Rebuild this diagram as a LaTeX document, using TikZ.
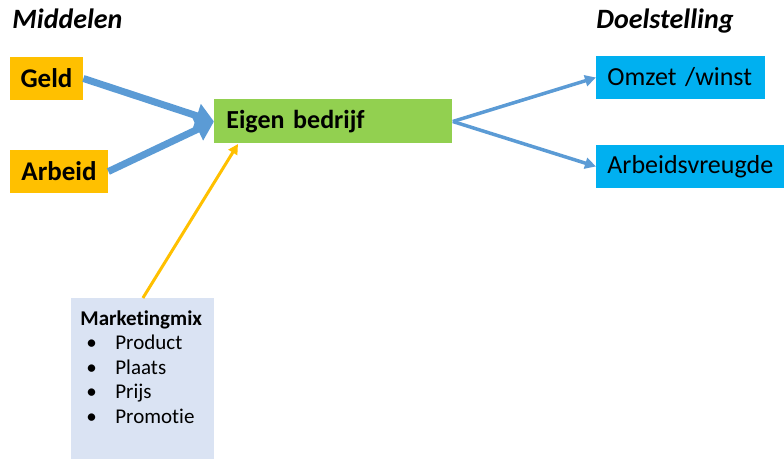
\documentclass[tikz,border=0pt]{standalone}
\usepackage{fontspec}
\setmainfont{Carlito}[Ligatures=NoCommon]
\usetikzlibrary{arrows.meta}

\definecolor{middelgeel}{HTML}{FFC000}
\definecolor{bedrijfgroen}{HTML}{92D050}
\definecolor{doelblauw}{HTML}{00B0F0}
\definecolor{mixblauw}{HTML}{DAE3F3}
\definecolor{pijlblauw}{HTML}{5B9BD5}

\begin{document}
\begin{tikzpicture}[
  x=0.5pt, y=-0.5pt,
  kop/.style={font=\fontsize{14}{16}\selectfont\bfseries\itshape, inner sep=0pt},
  middel/.style={fill=middelgeel, font=\fontsize{13.5}{15}\selectfont\bfseries,
    minimum height=21.5pt, inner xsep=0pt, inner ysep=0pt},
  doel/.style={fill=doelblauw, font=\fontsize{13}{15}\selectfont, anchor=west,
    minimum height=21.5pt, inner xsep=5.5pt, inner ysep=0pt, align=left},
  dikpijl/.style={draw=pijlblauw, line width=3.5pt, -{Triangle[length=9pt, width=12pt]}},
  dunpijl/.style={draw=pijlblauw, line width=1.75pt, -{Triangle[length=5.5pt, width=5.5pt]}},
  mixpijl/.style={draw=middelgeel, line width=1.5pt, -{Triangle[length=5pt, width=5pt]}}
]
  \useasboundingbox (0,0) rectangle (784,459);

  % Headings above both columns
  \node[kop, anchor=base west] (middelen) at (12,29)  {Middelen};
  \node[kop, anchor=base west] (doelen)   at (596,29) {Doelstelling};

  % Means on the left
  \node[middel, minimum width=36.5pt] (geld)   at (46.5,78.5)  {Geld};
  \node[middel, minimum width=49pt]   (arbeid) at (59,171.5)   {Arbeid};

  % The company in the middle
  \node[fill=bedrijfgroen, font=\fontsize{13}{15}\selectfont\bfseries, anchor=west,
    minimum height=22pt, text width=107pt, inner xsep=6pt, inner ysep=0pt,
    align=left] (bedrijf) at (214,121.5) {Eigen bedrijf};

  % Goals on the right
  \node[doel, text width=73.5pt] (omzet)  at (596,77.5)  {Omzet /winst};
  \node[doel, text width=83pt]   (vreugde) at (596,166.5) {Arbeidsvreugde};

  % Marketing mix box below
  \node[fill=mixblauw, anchor=north west, text width=62.5pt, minimum height=80.5pt,
    inner xsep=4.5pt, inner ysep=6pt, align=left, font=\fontsize{10.5}{12.25}\selectfont,
    text depth=62pt] (mix) at (71,298)
    {\textbf{Marketingmix}\\
     \hspace*{3pt}\makebox[14.5pt][l]{\textbullet}Product\\
     \hspace*{3pt}\makebox[14.5pt][l]{\textbullet}Plaats\\
     \hspace*{3pt}\makebox[14.5pt][l]{\textbullet}Prijs\\
     \hspace*{3pt}\makebox[14.5pt][l]{\textbullet}Promotie};
  \coordinate (mixdoel) at (238,144);

  % Connectors
  \draw[dikpijl] (geld.east)   -- (bedrijf.west);
  \draw[dikpijl] (arbeid.east) -- (bedrijf.west);
  \draw[dunpijl] (bedrijf.east) -- (omzet.west);
  \draw[dunpijl] (bedrijf.east) -- (vreugde.west);
  \draw[mixpijl] (mix.north) -- (mixdoel);

\end{tikzpicture}
\end{document}
